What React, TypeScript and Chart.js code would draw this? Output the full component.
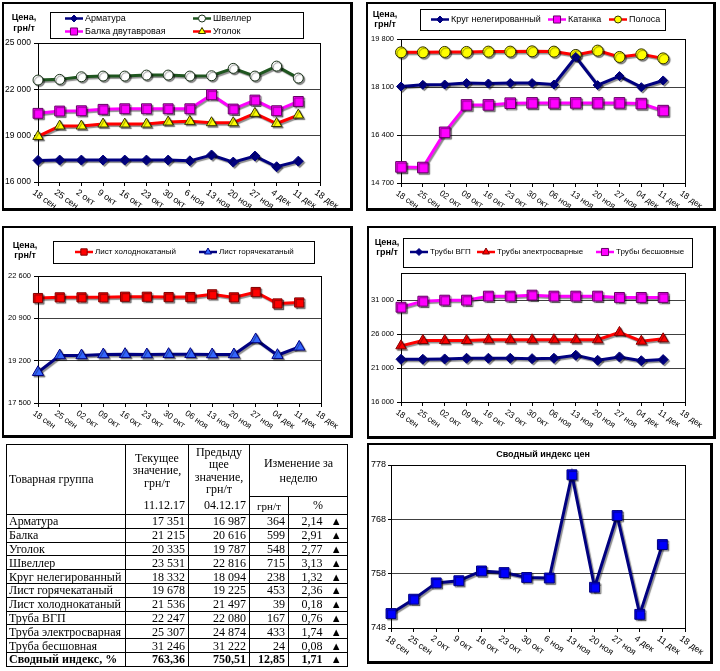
import React, { useEffect, useRef } from 'react';
import { Chart, registerables } from 'chart.js';
import { drawPoint } from 'chart.js/helpers';

Chart.register(...registerables);

const FONT = '"Liberation Sans", Arial, sans-serif';
const SERIF = '"Liberation Serif", "Times New Roman", serif';

// ---------- categories ----------
const WEEKS_A = ['18 сен', '25 сен', '2 окт', '9 окт', '16 окт', '23 окт', '30 окт', '6 ноя', '13 ноя', '20 ноя', '27 ноя', '4 дек', '11 дек', '18 дек'];
const WEEKS_B = ['18 сен', '25 сен', '02 окт', '09 окт', '16 окт', '23 окт', '30 окт', '06 ноя', '13 ноя', '20 ноя', '27 ноя', '04 дек', '11 дек', '18 дек'];

// ---------- chart 1 ----------
const ARMATURA = [17400, 17420, 17420, 17420, 17420, 17420, 17420, 17370, 17750, 17290, 17680, 16987, 17351];
const SHVELLER = [22600, 22645, 22813, 22858, 22858, 22923, 22923, 22858, 22880, 23357, 22858, 23504, 22729];
const BALKA = [20445, 20594, 20613, 20704, 20743, 20743, 20743, 20743, 21648, 20723, 21305, 20616, 21215];
const UGOLOK = [18950, 19623, 19623, 19753, 19753, 19753, 19882, 19927, 19837, 19837, 20445, 19787, 20335];
const TICKS_1 = [16000, 19000, 22000, 25000];

// ---------- chart 2 ----------
const KRUG = [18118, 18178, 18189, 18239, 18224, 18239, 18239, 18189, 19164, 18167, 18488, 18094, 18332];
const KATANKA = [15270, 15248, 16494, 17466, 17466, 17527, 17537, 17537, 17537, 17537, 17537, 17512, 17263];
const POLOSA = [19328, 19328, 19342, 19342, 19353, 19353, 19364, 19353, 19235, 19389, 19164, 19257, 19114];
const TICKS_2 = [14700, 16400, 18100, 19800];

// ---------- chart 3 ----------
const LIST_COLD = [21714, 21742, 21742, 21742, 21767, 21767, 21754, 21754, 21863, 21742, 21956, 21497, 21536];
const LIST_HOT = [18736, 19408, 19408, 19448, 19460, 19448, 19460, 19460, 19448, 19448, 20052, 19420, 19754];
const TICKS_3 = [17500, 19200, 20900, 22600];

// ---------- chart 4 ----------
const PIPE_VGP = [22296, 22296, 22341, 22445, 22445, 22445, 22386, 22445, 22890, 22148, 22638, 22080, 22247];
const PIPE_WELD = [24271, 25059, 25059, 25059, 25162, 25162, 25162, 25162, 25162, 25162, 26247, 24950, 25307];
const PIPE_SEAMLESS = [29959, 30850, 30999, 30999, 31593, 31593, 31741, 31593, 31593, 31593, 31400, 31400, 31400];
const TICKS_4 = [16000, 21000, 26000, 31000];

// ---------- chart 6 ----------
const INDEX = [750.66, 753.3, 756.3, 756.7, 758.5, 758.2, 757.3, 757.2, 776.2, 755.5, 768.7, 750.51, 763.36];
const TICKS_6 = [748, 758, 768, 778];

// ---------- table ----------
const GROUPS = ['Арматура', 'Балка', 'Уголок', 'Швеллер', 'Круг нелегированный', 'Лист горячекатаный', 'Лист холоднокатаный', 'Труба ВГП', 'Труба электросварная', 'Труба бесшовная'];
const CURRENT = [17351, 21215, 20335, 23531, 18332, 19678, 21536, 22247, 25307, 31246];
const PREVIOUS = [16987, 20616, 19787, 22816, 18094, 19225, 21497, 22080, 24874, 31222];
const CHANGE = [364, 599, 548, 715, 238, 453, 39, 167, 433, 24];
const CHANGE_PCT = [2.14, 2.91, 2.77, 3.13, 1.32, 2.36, 0.18, 0.76, 1.74, 0.08];
const SUMMARY_LABEL = 'Сводный индекс, %';
const SUMMARY = [763.36, 750.51, 12.85, 1.71];
const DATE_CUR = '11.12.17';
const DATE_PREV = '04.12.17';

const fmtInt = (v: number) => String(Math.round(v)).replace(/\B(?=(\d{3})+(?!\d))/g, ' ');
const fmtDec = (v: number) => v.toFixed(2).replace('.', ',');

const NAVY = '#000080';
const GREEN = '#1f561f';
const MAGENTA = '#ff00ff';
const RED = '#ff0000';
const YELLOW = '#ffff00';

type Series = { label: string; data: number[]; line: string; fill: string; edge: string; style: string; radius: number; legendRadius: number; width?: number };
type Def = {
  frame: { x: number; y: number; w: number; h: number };
  plot: { l: number; t: number; r: number; b: number };
  labels: string[];
  ticks: number[];
  min: number;
  max: number;
  tickLen: number;
  tickPad: number;
  yFont: number;
  xFont: number;
  series: Series[];
  legend?: { box: number[]; items: number[][]; font: number };
  unit?: { x: number; y1: number; y2: number };
  title?: { text: string; x: number; y: number };
};

const CHARTS: Def[] = [
  {
    frame: { x: 2, y: 2, w: 351, h: 209 },
    plot: { l: 38, t: 43, r: 320, b: 182 },
    labels: WEEKS_A, ticks: TICKS_1, min: 16000, max: 25000, tickLen: 4, tickPad: 3, yFont: 8.5, xFont: 9,
    series: [
      { label: 'Арматура', data: ARMATURA, line: NAVY, fill: NAVY, edge: NAVY, style: 'rectRot', radius: 5, legendRadius: 3.5 },
      { label: 'Швеллер', data: SHVELLER, line: GREEN, fill: '#ffffff', edge: '#1a331a', style: 'circle', radius: 5, legendRadius: 3.5 },
      { label: 'Балка двутавровая', data: BALKA, line: MAGENTA, fill: MAGENTA, edge: '#660066', style: 'rect', radius: 7, legendRadius: 5 },
      { label: 'Уголок', data: UGOLOK, line: RED, fill: YELLOW, edge: '#333300', style: 'triangle', radius: 6, legendRadius: 4 },
    ],
    legend: { box: [50, 12, 253, 26], items: [[65, 18.5], [193, 18.5], [65, 31.5], [193, 31.5]], font: 9 },
    unit: { x: 24, y1: 18, y2: 29 },
  },
  {
    frame: { x: 366, y: 2, w: 350, h: 209 },
    plot: { l: 401, t: 39, r: 685, b: 183 },
    labels: WEEKS_B, ticks: TICKS_2, min: 14700, max: 19800, tickLen: 4, tickPad: 3, yFont: 7.5, xFont: 8.5,
    series: [
      { label: 'Круг нелегированный', data: KRUG, line: NAVY, fill: NAVY, edge: NAVY, style: 'rectRot', radius: 4.5, legendRadius: 3.5 },
      { label: 'Катанка', data: KATANKA, line: MAGENTA, fill: MAGENTA, edge: '#660066', style: 'rect', radius: 7.5, legendRadius: 5 },
      { label: 'Полоса', data: POLOSA, line: RED, fill: YELLOW, edge: '#333300', style: 'circle', radius: 5.5, legendRadius: 3.5 },
    ],
    legend: { box: [420, 9, 245, 21], items: [[431, 19.5], [548, 19.5], [609, 19.5]], font: 9 },
    unit: { x: 385, y1: 15, y2: 25 },
  },
  {
    frame: { x: 2, y: 226, w: 351, h: 212 },
    plot: { l: 38, t: 276, r: 321, b: 403 },
    labels: WEEKS_B, ticks: TICKS_3, min: 17500, max: 22600, tickLen: 4, tickPad: 3, yFont: 7.5, xFont: 8.5,
    series: [
      { label: 'Лист холоднокатаный', data: LIST_COLD, line: RED, fill: RED, edge: '#800000', style: 'rect', radius: 6.5, legendRadius: 4.5 },
      { label: 'Лист горячекатаный', data: LIST_HOT, line: NAVY, fill: '#3366ff', edge: NAVY, style: 'triangle', radius: 6.5, legendRadius: 4 },
    ],
    legend: { box: [53, 241, 261, 22], items: [[75, 252], [199, 252]], font: 8 },
    unit: { x: 25, y1: 246, y2: 256 },
  },
  {
    frame: { x: 367, y: 226, w: 349, h: 213 },
    plot: { l: 401, t: 273, r: 685, b: 402 },
    labels: WEEKS_B, ticks: TICKS_4, min: 16000, max: 35000, tickLen: 4, tickPad: 3, yFont: 7.5, xFont: 8.5,
    series: [
      { label: 'Трубы ВГП', data: PIPE_VGP, line: NAVY, fill: NAVY, edge: NAVY, style: 'rectRot', radius: 5, legendRadius: 3.5 },
      { label: 'Трубы электросварные', data: PIPE_WELD, line: RED, fill: RED, edge: '#800000', style: 'triangle', radius: 6, legendRadius: 4 },
      { label: 'Трубы бесшовные', data: PIPE_SEAMLESS, line: MAGENTA, fill: MAGENTA, edge: '#660066', style: 'rect', radius: 7, legendRadius: 5 },
    ],
    legend: { box: [403, 238, 289, 29], items: [[410, 252], [477, 252], [596, 252]], font: 8 },
    unit: { x: 387, y1: 243, y2: 253 },
  },
  {
    frame: { x: 367, y: 443, w: 346, h: 221 },
    plot: { l: 391, t: 465, r: 685, b: 628 },
    labels: WEEKS_A, ticks: TICKS_6, min: 748, max: 778, tickLen: 3, tickPad: 2, yFont: 9, xFont: 9,
    series: [
      { label: 'Сводный индекс цен', data: INDEX, line: NAVY, fill: '#0000ff', edge: NAVY, style: 'rect', radius: 7, legendRadius: 5 },
    ],
    title: { text: 'Сводный индекс цен', x: 543, y: 455 },
  },
];

function makeDecor(def: Def) {
  const ox = def.frame.x;
  const oy = def.frame.y;
  return {
    id: 'decor',
    beforeDatasetsDraw(chart: any) {
      const { ctx, chartArea: a } = chart;
      ctx.save();
      ctx.strokeStyle = '#000';
      ctx.lineWidth = 1;
      const l = Math.round(a.left), t = Math.round(a.top), r = Math.round(a.right), b = Math.round(a.bottom);
      ctx.strokeRect(l + 0.5, t + 0.5, r - l, b - t);
      ctx.restore();
      ctx.save();
      ctx.shadowColor = 'rgba(0,0,0,0.45)';
      ctx.shadowOffsetX = 1.5;
      ctx.shadowOffsetY = 1.5;
      ctx.shadowBlur = 1;
    },
    afterDatasetsDraw(chart: any) {
      chart.ctx.restore();
    },
    afterDraw(chart: any) {
      const { ctx, chartArea: a } = chart;
      const xs = chart.scales.x;
      ctx.save();
      ctx.fillStyle = '#000';
      ctx.font = `${def.xFont}px ${FONT}`;
      ctx.textAlign = 'left';
      ctx.textBaseline = 'top';
      def.labels.forEach((lab, i) => {
        const x = xs.getPixelForTick(i);
        ctx.save();
        ctx.translate(x - 2, a.bottom + 6);
        ctx.rotate((35 * Math.PI) / 180);
        ctx.fillText(lab, 0, 0);
        ctx.restore();
      });
      if (def.unit) {
        ctx.font = `bold 9px ${FONT}`;
        ctx.textAlign = 'center';
        ctx.textBaseline = 'middle';
        ctx.fillText('Цена,', def.unit.x - ox, def.unit.y1 - oy);
        ctx.fillText('грн/т', def.unit.x - ox, def.unit.y2 - oy);
      }
      if (def.title) {
        ctx.font = `bold 9px ${FONT}`;
        ctx.textAlign = 'center';
        ctx.textBaseline = 'middle';
        ctx.fillText(def.title.text, def.title.x - ox, def.title.y - oy);
      }
      if (def.legend) {
        const [bx, by, bw, bh] = def.legend.box;
        ctx.fillStyle = '#fff';
        ctx.fillRect(bx - ox, by - oy, bw, bh);
        ctx.strokeStyle = '#000';
        ctx.lineWidth = 1;
        ctx.strokeRect(Math.round(bx - ox) + 0.5, Math.round(by - oy) + 0.5, bw, bh);
        def.legend.items.forEach(([lx, ly], i) => {
          const s = def.series[i];
          const x0 = lx - ox;
          const y0 = ly - oy;
          ctx.strokeStyle = s.line;
          ctx.lineWidth = 2.5;
          ctx.beginPath();
          ctx.moveTo(x0, y0);
          ctx.lineTo(x0 + 18, y0);
          ctx.stroke();
          ctx.fillStyle = s.fill;
          ctx.strokeStyle = s.edge;
          ctx.lineWidth = 1;
          drawPoint(ctx, { pointStyle: s.style as any, radius: s.legendRadius, borderWidth: 1, rotation: 0 }, x0 + 9, y0);
          ctx.fillStyle = '#000';
          ctx.font = `${def.legend!.font}px ${FONT}`;
          ctx.textAlign = 'left';
          ctx.textBaseline = 'middle';
          ctx.fillText(s.label, x0 + 20, y0);
        });
      }
      ctx.restore();
    },
  };
}

function buildConfig(def: Def): any {
  const f = def.frame;
  const p = def.plot;
  return {
    type: 'line',
    data: {
      labels: def.labels,
      datasets: def.series.map((s) => ({
        label: s.label,
        data: s.data,
        borderColor: s.line,
        borderWidth: s.width ?? 3,
        backgroundColor: s.fill,
        pointBackgroundColor: s.fill,
        pointBorderColor: s.edge,
        pointBorderWidth: 1,
        pointStyle: s.style,
        pointRadius: s.radius,
        tension: 0,
        fill: false,
        clip: false,
      })),
    },
    options: {
      responsive: false,
      animation: false,
      devicePixelRatio: 1,
      events: [],
      layout: { padding: { left: 0, right: f.x + f.w - p.r, top: p.t - f.y, bottom: 0 } },
      plugins: { legend: { display: false }, tooltip: { enabled: false }, title: { display: false } },
      scales: {
        x: {
          type: 'category',
          offset: false,
          ticks: { display: false, autoSkip: false },
          grid: { display: true, drawOnChartArea: false, drawTicks: true, tickLength: 4, color: '#000', offset: false },
          border: { display: true, color: '#000', width: 1 },
          afterFit: (s: any) => {
            s.height = f.y + f.h - p.b;
          },
        },
        y: {
          type: 'linear',
          min: def.min,
          max: def.max,
          afterBuildTicks: (s: any) => {
            s.ticks = def.ticks.map((v) => ({ value: v }));
          },
          ticks: {
            autoSkip: false,
            color: '#000',
            font: { family: FONT, size: def.yFont },
            padding: def.tickPad,
            callback: (v: any) => fmtInt(Number(v)),
          },
          grid: { color: '#404040', tickLength: def.tickLen, tickColor: '#000', lineWidth: 1 },
          border: { display: true, color: '#000', width: 1 },
          afterFit: (s: any) => {
            s.width = p.l - f.x;
          },
        },
      },
    },
    plugins: [makeDecor(def)],
  };
}

function ChartPanel({ def }: { def: Def }) {
  const ref = useRef<HTMLCanvasElement>(null);
  useEffect(() => {
    if (!ref.current) return;
    const c = new Chart(ref.current, buildConfig(def));
    return () => c.destroy();
  }, [def]);
  const f = def.frame;
  return (
    <>
      <canvas
        ref={ref}
        width={f.w}
        height={f.h}
        style={{ position: 'absolute', left: f.x, top: f.y, width: f.w, height: f.h, display: 'block' }}
      />
      <div
        style={{
          position: 'absolute', left: f.x, top: f.y, width: f.w, height: f.h, boxSizing: 'border-box',
          border: '2px solid #000', borderRightWidth: 3, borderBottomWidth: 3, pointerEvents: 'none',
        }}
      />
    </>
  );
}

const bd = '1px solid #000';

function PriceTable() {
  const td: React.CSSProperties = { border: bd, padding: 0, height: '12.8px', lineHeight: '12px', whiteSpace: 'nowrap', overflow: 'hidden' };
  const num: React.CSSProperties = { ...td, textAlign: 'right', paddingRight: 3 };
  const pctCell: React.CSSProperties = { ...td, textAlign: 'right', paddingRight: 3, borderRight: 'none' };
  const arrowCell: React.CSSProperties = { ...td, textAlign: 'center', borderLeft: 'none', fontSize: 11 };
  const headBlock: React.CSSProperties = { height: 51, display: 'flex', alignItems: 'center', justifyContent: 'center', textAlign: 'center', lineHeight: '12.5px' };
  const dateBlock: React.CSSProperties = { height: 18, lineHeight: '18px', textAlign: 'right', paddingRight: 3 };
  return (
    <table
      style={{
        position: 'absolute', left: 6, top: 444, width: 341, borderCollapse: 'collapse', tableLayout: 'fixed',
        fontFamily: SERIF, fontSize: 12, color: '#000',
      }}
    >
      <colgroup>
        <col style={{ width: 119 }} />
        <col style={{ width: 63 }} />
        <col style={{ width: 61 }} />
        <col style={{ width: 39 }} />
        <col style={{ width: 37 }} />
        <col style={{ width: 22 }} />
      </colgroup>
      <tbody>
        <tr style={{ height: 52 }}>
          <td rowSpan={2} style={{ border: bd, padding: '0 0 0 2px', verticalAlign: 'middle' }}>Товарная группа</td>
          <td rowSpan={2} style={{ border: bd, padding: 0, verticalAlign: 'top' }}>
            <div style={headBlock}>Текущее<br />значение,<br />грн/т</div>
            <div style={dateBlock}>{DATE_CUR}</div>
          </td>
          <td rowSpan={2} style={{ border: bd, padding: 0, verticalAlign: 'top' }}>
            <div style={headBlock}>Предыду<br />щее<br />значение,<br />грн/т</div>
            <div style={dateBlock}>{DATE_PREV}</div>
          </td>
          <td colSpan={3} style={{ border: bd, padding: 0, textAlign: 'center', lineHeight: '15px' }}>Изменение за<br />неделю</td>
        </tr>
        <tr style={{ height: 18 }}>
          <td style={{ border: bd, padding: 0, textAlign: 'center', fontSize: 11 }}>грн/т</td>
          <td colSpan={2} style={{ border: bd, padding: 0, textAlign: 'center', fontSize: 12 }}>%</td>
        </tr>
        {GROUPS.map((g, i) => (
          <tr key={g}>
            <td style={{ ...td, paddingLeft: 2 }}>{g}</td>
            <td style={num}>{fmtInt(CURRENT[i])}</td>
            <td style={num}>{fmtInt(PREVIOUS[i])}</td>
            <td style={num}>{fmtInt(CHANGE[i])}</td>
            <td style={pctCell}>{fmtDec(CHANGE_PCT[i])}</td>
            <td style={arrowCell}>{CHANGE_PCT[i] >= 0 ? '▲' : '▼'}</td>
          </tr>
        ))}
        <tr style={{ fontWeight: 'bold' }}>
          <td style={{ ...td, paddingLeft: 2 }}>{SUMMARY_LABEL}</td>
          <td style={num}>{fmtDec(SUMMARY[0])}</td>
          <td style={num}>{fmtDec(SUMMARY[1])}</td>
          <td style={num}>{fmtDec(SUMMARY[2])}</td>
          <td style={pctCell}>{fmtDec(SUMMARY[3])}</td>
          <td style={{ ...arrowCell, fontWeight: 'normal' }}>{SUMMARY[3] >= 0 ? '▲' : '▼'}</td>
        </tr>
      </tbody>
    </table>
  );
}

export default function App() {
  return (
    <div style={{ position: 'absolute', left: 0, top: 0, width: 720, height: 671, background: '#fff', overflow: 'hidden' }}>
      {CHARTS.map((d, i) => (
        <ChartPanel key={i} def={d} />
      ))}
      <PriceTable />
    </div>
  );
}
